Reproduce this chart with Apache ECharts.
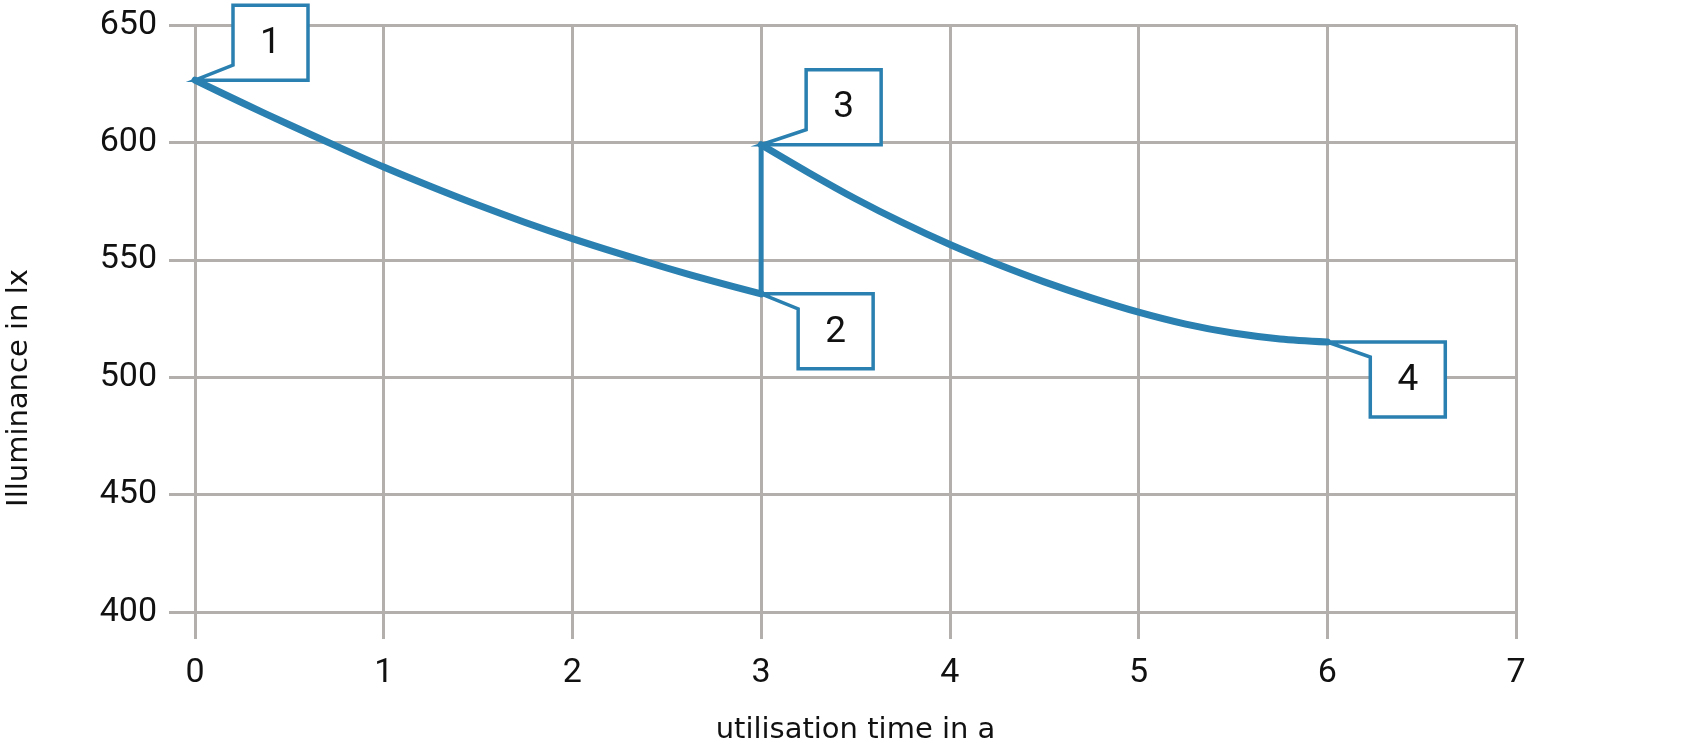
<!DOCTYPE html>
<html>
<head>
<meta charset="utf-8">
<script src="https://cdn.jsdelivr.net/npm/echarts@6/dist/echarts.min.js"></script>
<style>
html,body{margin:0;padding:0;background:#fff;}
#chart{width:1696px;height:750px;}
</style>
</head>
<body>
<div id="chart"></div>
<script>
// ---- data ----
const seg1X = [0, 0.25, 0.5, 0.75, 1, 1.25, 1.5, 1.75, 2, 2.25, 2.5, 2.75, 3];
const seg1Y = [626.5, 616.9, 607.5, 598.4, 589.5, 581.2, 573.3, 565.9, 559, 552.6, 546.5, 540.8, 535.5];
const seg2X = [3, 3.25, 3.5, 3.75, 4, 4.25, 4.5, 4.75, 5, 5.25, 5.5, 5.75, 6];
const seg2Y = [599, 587.2, 576, 565.8, 556.5, 548.2, 540.6, 533.8, 527.7, 522.6, 518.8, 516.3, 515];
const xTicks = [0, 1, 2, 3, 4, 5, 6, 7];
const yTicks = [400, 450, 500, 550, 600, 650];
const calloutLabels = ['1', '2', '3', '4'];
const calloutX = [seg1X[0], seg1X[seg1X.length - 1], seg2X[0], seg2X[seg2X.length - 1]];
const calloutY = [seg1Y[0], seg1Y[seg1Y.length - 1], seg2Y[0], seg2Y[seg2Y.length - 1]];
const calloutDir = ['up', 'down', 'up', 'down'];
const xName = 'utilisation time in a';
const yName = 'Illuminance in lx';

// ---- styles ----
const BLUE = '#2a80b0';
const GRID = '#b3afac';
const TXT = '#111111';
const calloutDx = {'1': 38, '2': 37, '3': 45, '4': 43};
const BOX = 75;

const zip = (xs, ys) => xs.map((x, i) => [x, ys[i]]);
const calloutData = calloutLabels.map((l, i) => [calloutX[i], calloutY[i], l, calloutDir[i]]);

const chart = echarts.init(document.getElementById('chart'), null, {renderer: 'canvas'});

const axisLineStyle = {color: GRID, width: 3};
const curveStyle = {color: BLUE, width: 7, cap: 'round', join: 'round'};

const option = {
  animation: false,
  backgroundColor: '#fff',
  grid: {left: 195, right: 180, top: 25, bottom: 137, containLabel: false},
  xAxis: {
    type: 'value',
    min: xTicks[0], max: xTicks[xTicks.length - 1], interval: 1,
    axisLine: {show: false},
    axisTick: {show: true, length: 27, lineStyle: axisLineStyle},
    splitLine: {show: true, lineStyle: axisLineStyle},
    axisLabel: {margin: 44, fontSize: 34, fontFamily: 'Roboto', color: TXT, lineHeight: 34},
    name: xName,
    nameLocation: 'middle',
    nameGap: 104,
    nameTextStyle: {fontSize: 29, fontFamily: 'DejaVu Sans', color: TXT, lineHeight: 29}
  },
  yAxis: {
    type: 'value',
    min: yTicks[0], max: yTicks[yTicks.length - 1], interval: 50,
    axisLine: {show: false},
    axisTick: {show: true, length: 26, lineStyle: axisLineStyle},
    splitLine: {show: true, lineStyle: axisLineStyle},
    axisLabel: {margin: 38, fontSize: 34, fontFamily: 'Roboto', color: TXT}
  },
  graphic: [{
    type: 'text',
    x: 19, y: 388,
    rotation: Math.PI / 2,
    style: {text: yName, fontSize: 29, fontFamily: 'DejaVu Sans', fill: TXT, align: 'center', verticalAlign: 'middle'}
  }],
  series: [
    {
      type: 'line', data: zip(seg1X, seg1Y), smooth: 0.3, showSymbol: false,
      lineStyle: curveStyle, z: 3
    },
    {
      type: 'line', data: [[seg1X[seg1X.length - 1], seg1Y[seg1Y.length - 1]], [seg2X[0], seg2Y[0]]],
      showSymbol: false, lineStyle: {color: BLUE, width: 5}, z: 3
    },
    {
      type: 'line', data: zip(seg2X, seg2Y), smooth: 0.3, showSymbol: false,
      lineStyle: curveStyle, z: 3
    },
    {
      type: 'custom',
      clip: false,
      z: 5,
      data: calloutData,
      renderItem: function (params, api) {
        const item = calloutData[params.dataIndex];
        const p = api.coord([item[0], item[1]]);
        const dx = calloutDx[item[2]];
        const up = item[3] === 'up';
        const s = up ? -1 : 1;
        const pts = [
          [p[0], p[1]],
          [p[0] + dx, p[1] + s * 15],
          [p[0] + dx, p[1] + s * BOX],
          [p[0] + dx + BOX, p[1] + s * BOX],
          [p[0] + dx + BOX, p[1]]
        ];
        return {
          type: 'group',
          children: [
            {
              type: 'polygon',
              shape: {points: pts},
              style: {fill: '#fff', stroke: BLUE, lineWidth: 3.5, lineJoin: 'miter', miterLimit: 10}
            },
            {
              type: 'text',
              style: {
                text: item[2], x: p[0] + dx + BOX / 2, y: p[1] + s * BOX / 2 + 1,
                align: 'center', verticalAlign: 'middle',
                fontSize: 37, fontFamily: 'Roboto', fill: TXT
              }
            }
          ]
        };
      }
    }
  ]
};
chart.setOption(option);
</script>
</body>
</html>
